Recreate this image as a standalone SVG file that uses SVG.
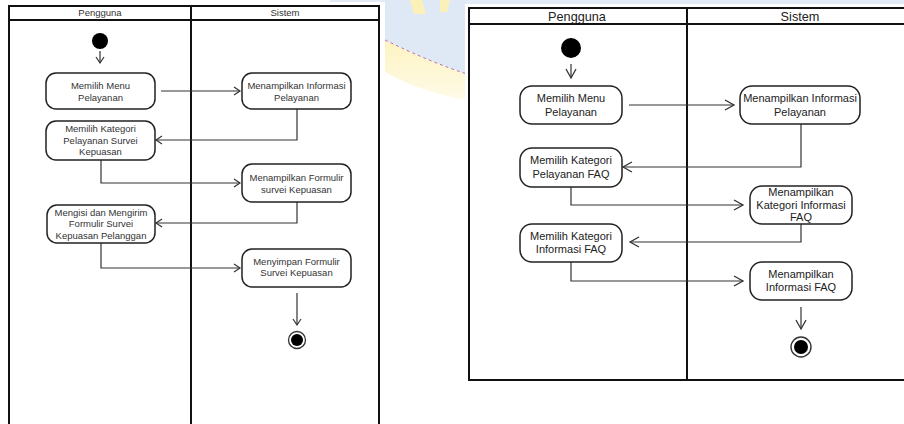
<svg xmlns="http://www.w3.org/2000/svg" width="904" height="424" viewBox="0 0 904 424">
  <defs>
    <style>
      .lane { fill: none; stroke: #111; stroke-width: 2; }
      .act { fill: #fff; stroke: #222; stroke-width: 1.5; }
      .flow { fill: none; stroke: #333; stroke-width: 1.2; }
      .ts { font-family: "Liberation Sans", Arial, sans-serif; font-size: 9.5px; fill: #333; text-anchor: middle; }
      .tl { font-family: "Liberation Sans", Arial, sans-serif; font-size: 11px; fill: #222; text-anchor: middle; }
      .hl { font-size: 12.7px; }
    </style>
    <marker id="ahS" markerUnits="userSpaceOnUse" markerWidth="12" markerHeight="12" refX="10" refY="6" orient="auto">
      <path d="M4,2 L10,6 L4,10" fill="none" stroke="#333" stroke-width="1.2"/>
    </marker>
    <marker id="ahL" markerUnits="userSpaceOnUse" markerWidth="14" markerHeight="14" refX="12" refY="7" orient="auto">
      <path d="M3,2 L12,7 L3,12" fill="none" stroke="#333" stroke-width="1.3"/>
    </marker>
    <linearGradient id="band" x1="0" y1="0" x2="0" y2="1">
      <stop offset="0" stop-color="#fdf3c0"/>
      <stop offset="1" stop-color="#fefbe8"/>
    </linearGradient>
  </defs>

  <!-- page background and faded emblem between the two panels -->
  <rect x="0" y="0" width="904" height="424" fill="#fff"/>
  <rect x="330" y="0" width="574" height="6" fill="#e3ebf6"/>
  <path d="M385,0 H467 V74 Q430,62 385,40 Z" fill="#dfe8f5"/>
  <path d="M385,40 Q430,62 467,74 L467,100 Q420,92 385,72 Z" fill="url(#band)"/>
  <path d="M385,40 Q430,62 467,74" fill="none" stroke="#b06ab8" stroke-width="1" stroke-dasharray="3,3"/>
  <path d="M410,0 L422,0 L426,14 L414,14 Z M440,0 L450,0 L447,12 L440,12 Z" fill="#fbf0b8"/>
  <rect x="0" y="2" width="385" height="422" fill="#fff"/>
  <rect x="465" y="4" width="439" height="420" fill="#fff"/>

  <!-- left panel: swimlanes -->
  <g id="laneLeft">
    <path class="lane" d="M9,430 V6 H379 V430 M9,20 H379 M191,6 V430"/>
    <text class="ts" x="100" y="16">Pengguna</text>
    <text class="ts" x="285" y="16">Sistem</text>
  </g>

  <!-- right panel: swimlanes -->
  <g id="laneRight">
    <path class="lane" d="M910,8 H469 V380 H910 M469,24 H910 M687,8 V380"/>
    <text class="tl hl" x="577" y="21">Pengguna</text>
    <text class="tl hl" x="800" y="21">Sistem</text>
  </g>

  <!-- left panel connectors -->
  <g id="flowsLeft">
    <path class="flow" d="M100,51 V63" marker-end="url(#ahS)"/>
    <path class="flow" d="M161,91 H240" marker-end="url(#ahS)"/>
    <path class="flow" d="M297,109 V140 H156" marker-end="url(#ahS)"/>
    <path class="flow" d="M101,160 V183 H240" marker-end="url(#ahS)"/>
    <path class="flow" d="M297,202 V223 H156" marker-end="url(#ahS)"/>
    <path class="flow" d="M101,243 V268 H240" marker-end="url(#ahS)"/>
    <path class="flow" d="M297,293 V325" marker-end="url(#ahS)"/>
  </g>

  <!-- right panel connectors -->
  <g id="flowsRight">
    <path class="flow" d="M571,64 V78" marker-end="url(#ahL)"/>
    <path class="flow" d="M629,105 H734" marker-end="url(#ahL)"/>
    <path class="flow" d="M801,124 V167 H623" marker-end="url(#ahL)"/>
    <path class="flow" d="M571,187 V205 H743" marker-end="url(#ahL)"/>
    <path class="flow" d="M801,224 V242 H630" marker-end="url(#ahL)"/>
    <path class="flow" d="M571,262 V281 H743" marker-end="url(#ahL)"/>
    <path class="flow" d="M801,307 V329" marker-end="url(#ahL)"/>
  </g>

  <!-- left panel nodes -->
  <g id="startLeft"><circle cx="100" cy="41" r="8" fill="#000"/></g>
  <g id="l1">
    <rect class="act" x="46" y="73" width="109" height="36" rx="10"/>
    <text class="ts" x="100.5" y="89">Memilih Menu</text>
    <text class="ts" x="100.5" y="101">Pelayanan</text>
  </g>
  <g id="l2">
    <rect class="act" x="242" y="73" width="109" height="36" rx="10"/>
    <text class="ts" x="296.5" y="89">Menampilkan Informasi</text>
    <text class="ts" x="296.5" y="101">Pelayanan</text>
  </g>
  <g id="l3">
    <rect class="act" x="46" y="121" width="109" height="39" rx="10"/>
    <text class="ts" x="100.5" y="132">Memilih Kategori</text>
    <text class="ts" x="100.5" y="144">Pelayanan Survei</text>
    <text class="ts" x="100.5" y="155">Kepuasan</text>
  </g>
  <g id="l4">
    <rect class="act" x="242" y="164" width="109" height="38" rx="10"/>
    <text class="ts" x="296.5" y="181">Menampilkan Formulir</text>
    <text class="ts" x="296.5" y="193">survei Kepuasan</text>
  </g>
  <g id="l5">
    <rect class="act" x="47" y="205" width="108" height="38" rx="10"/>
    <text class="ts" x="101" y="216">Mengisi dan Mengirim</text>
    <text class="ts" x="101" y="227">Formulir Survei</text>
    <text class="ts" x="101" y="239">Kepuasan Pelanggan</text>
  </g>
  <g id="l6">
    <rect class="act" x="242" y="249" width="109" height="38" rx="10"/>
    <text class="ts" x="296.5" y="265">Menyimpan Formulir</text>
    <text class="ts" x="296.5" y="276">Survei Kepuasan</text>
  </g>
  <g id="endLeft">
    <circle cx="297" cy="340" r="8.5" fill="#fff" stroke="#333" stroke-width="1.3"/>
    <circle cx="297" cy="340" r="6" fill="#000"/>
  </g>

  <!-- right panel nodes -->
  <g id="startRight"><circle cx="571" cy="48" r="10" fill="#000"/></g>
  <g id="r1">
    <rect class="act" x="520" y="86" width="102" height="38" rx="12"/>
    <text class="tl" x="571" y="102">Memilih Menu</text>
    <text class="tl" x="571" y="116">Pelayanan</text>
  </g>
  <g id="r2">
    <rect class="act" x="740" y="86" width="120" height="38" rx="12"/>
    <text class="tl" x="800" y="102">Menampilkan Informasi</text>
    <text class="tl" x="800" y="116">Pelayanan</text>
  </g>
  <g id="r3">
    <rect class="act" x="520" y="148" width="102" height="39" rx="12"/>
    <text class="tl" x="571" y="164">Memilih Kategori</text>
    <text class="tl" x="571" y="178">Pelayanan FAQ</text>
  </g>
  <g id="r4">
    <rect class="act" x="750" y="186" width="102" height="38" rx="12"/>
    <text class="tl" x="801" y="196">Menampilkan</text>
    <text class="tl" x="801" y="208.5">Kategori Informasi</text>
    <text class="tl" x="801" y="221">FAQ</text>
  </g>
  <g id="r5">
    <rect class="act" x="520" y="224" width="102" height="38" rx="12"/>
    <text class="tl" x="571" y="240">Memilih Kategori</text>
    <text class="tl" x="571" y="253">Informasi FAQ</text>
  </g>
  <g id="r6">
    <rect class="act" x="750" y="262" width="102" height="38" rx="12"/>
    <text class="tl" x="801" y="278">Menampilkan</text>
    <text class="tl" x="801" y="291">Informasi FAQ</text>
  </g>
  <g id="endRight">
    <circle cx="801" cy="347" r="10" fill="#fff" stroke="#333" stroke-width="1.4"/>
    <circle cx="801" cy="347" r="7" fill="#000"/>
  </g>
</svg>
